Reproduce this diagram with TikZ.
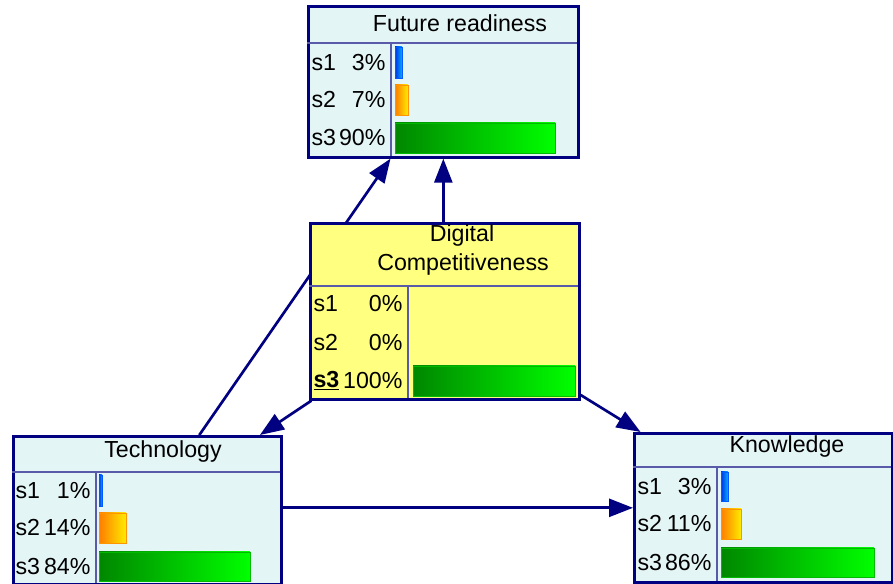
\documentclass[tikz,border=0pt]{standalone}
\usepackage{fontspec}
\setmainfont{Liberation Sans}
\usetikzlibrary{arrows.meta,backgrounds}

\definecolor{netnavy}{RGB}{0,0,128}
\definecolor{netsepline}{RGB}{90,90,170}
\definecolor{netcyan}{RGB}{228,245,246}
\definecolor{netyellow}{RGB}{255,255,128}

\tikzset{every picture/.style={line width=0.75pt},
  netbox/.style={draw=netnavy, line width=2pt, inner sep=0pt, anchor=north west},
  netsep/.style={draw=netsepline, line width=0.8pt},
  netarc/.style={draw=netnavy, line width=2pt, -{Triangle[length=18pt,width=13.5pt]}},
  lbl/.style={anchor=west, inner sep=0pt},
  pct/.style={anchor=east, inner sep=0pt},
  barblue/.style={draw={rgb,255:red,0;green,90;blue,255}, line width=0.6pt, left color={rgb,255:red,0;green,50;blue,230}, right color={rgb,255:red,0;green,175;blue,255}},
  barorange/.style={draw={rgb,255:red,255;green,150;blue,0}, line width=0.6pt, left color={rgb,255:red,255;green,125;blue,0}, right color={rgb,255:red,255;green,235;blue,0}},
  bargreen/.style={draw={rgb,255:red,0;green,185;blue,0}, line width=0.6pt, left color={rgb,255:red,0;green,135;blue,0}, right color={rgb,255:red,0;green,255;blue,0}}
}

\begin{document}
\begin{tikzpicture}[x=0.75pt,y=0.75pt,yscale=-1,xscale=1,font=\fontsize{17.4}{20}\selectfont]
	\useasboundingbox (0,0) rectangle (893,584);

	%Shape: Future readiness
	\node [netbox, fill=netcyan, minimum width=270*0.75pt, minimum height=151*0.75pt] (future) at (307,5) {};
	\draw [netsep] (307,43) -- (577,43) ;
	\draw [netsep] (391,43) -- (391,156) ;
	\draw [barblue] (395,47) rectangle (402,78) ;
	\draw [barorange] (395,85) rectangle (408,115) ;
	\draw [bargreen] (395,123) rectangle (555,153) ;
	% Text Node
	\node (futTitle) at (460,23) {Future readiness};
	\node [lbl] (futS1) at (311,62.5) {s1};
	\node [pct] (futP1) at (386,62.5) {3\%};
	\node [lbl] (futS2) at (311,100) {s2};
	\node [pct] (futP2) at (386,100) {7\%};
	\node [lbl] (futS3) at (311,138) {s3};
	\node [pct] (futP3) at (386,138) {90\%};

	%Shape: Digital Competitiveness
	\node [netbox, fill=netyellow, minimum width=269*0.75pt, minimum height=176*0.75pt] (digital) at (309,222) {};
	\draw [netsep] (309,286) -- (578,286) ;
	\draw [netsep] (408,286) -- (408,398) ;
	\draw [bargreen] (413,366) rectangle (575,396) ;
	% Text Node
	\node (digTitleA) at (462,236) {Digital};
	\node (digTitleB) at (463,265) {Competitiveness};
	\node [lbl] (digS1) at (313,304) {s1};
	\node [pct] (digP1) at (403,304) {0\%};
	\node [lbl] (digS2) at (313,343) {s2};
	\node [pct] (digP2) at (403,343) {0\%};
	\node [lbl] (digS3) at (313,381) {\underline{\textbf{s3}}};
	\node [pct] (digP3) at (403,381) {100\%};

	%Shape: Technology
	\node [netbox, fill=netcyan, minimum width=268*0.75pt, minimum height=148*0.75pt] (tech) at (12,435) {};
	\draw [netsep] (12,472) -- (280,472) ;
	\draw [netsep] (96,472) -- (96,583) ;
	\draw [barblue] (99,475) rectangle (102,506) ;
	\draw [barorange] (99,513) rectangle (126,543) ;
	\draw [bargreen] (99,552) rectangle (250,581) ;
	% Text Node
	\node (techTitle) at (163,452) {Technology};
	\node [lbl] (techS1) at (15,490.5) {s1};
	\node [pct] (techP1) at (91,490.5) {1\%};
	\node [lbl] (techS2) at (15,528) {s2};
	\node [pct] (techP2) at (91,528) {14\%};
	\node [lbl] (techS3) at (15,567) {s3};
	\node [pct] (techP3) at (91,567) {84\%};

	%Shape: Knowledge
	\node [netbox, fill=netcyan, minimum width=258*0.75pt, minimum height=149*0.75pt] (know) at (633,432) {};
	\draw [netsep] (633,467) -- (891,467) ;
	\draw [netsep] (717,467) -- (717,581) ;
	\draw [barblue] (721,472) rectangle (728,501) ;
	\draw [barorange] (721,509) rectangle (741,539) ;
	\draw [bargreen] (721,548) rectangle (874,577) ;
	% Text Node
	\node (knowTitle) at (787,447) {Knowledge};
	\node [lbl] (knowS1) at (637,486.5) {s1};
	\node [pct] (knowP1) at (712,486.5) {3\%};
	\node [lbl] (knowS2) at (637,524) {s2};
	\node [pct] (knowP2) at (712,524) {11\%};
	\node [lbl] (knowS3) at (637,562.5) {s3};
	\node [pct] (knowP3) at (712,562.5) {86\%};

	%Straight Lines (arcs, behind the boxes)
	\begin{scope}[on background layer]
	\draw [netarc] (digital.north -| future.south) -- (future.south) ;
	\draw [netarc] (tech) -- (future) ;
	\draw [netarc] (digital) -- (tech) ;
	\draw [netarc] (digital) -- (know) ;
	\draw [netarc] (tech.east |- know.west) -- (know.west) ;
	\end{scope}

\end{tikzpicture}
\end{document}
